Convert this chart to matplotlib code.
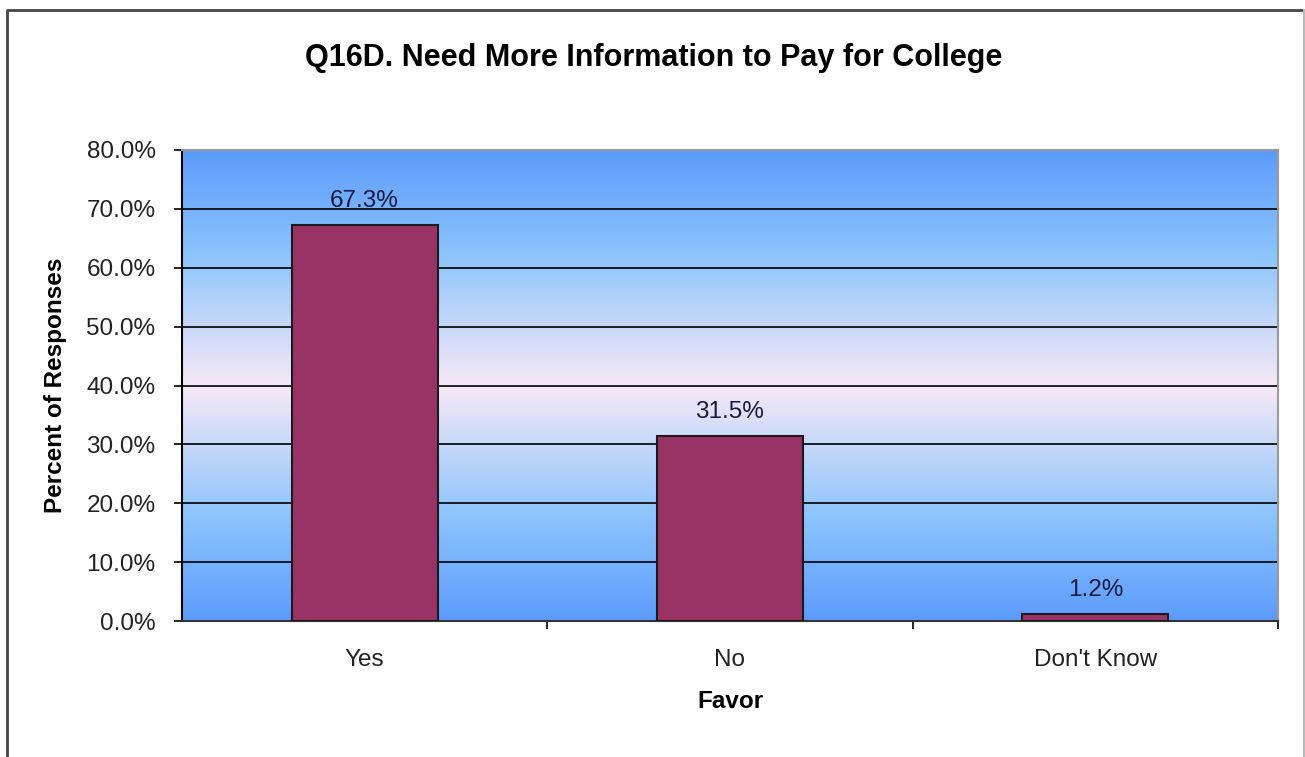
import matplotlib.pyplot as plt
import numpy as np
from matplotlib.colors import LinearSegmentedColormap
from matplotlib.lines import Line2D

categories = ['Yes', 'No', "Don't Know"]
percent = [67.3, 31.5, 1.2]
y_ticks = [0, 10, 20, 30, 40, 50, 60, 70, 80]

plt.rcParams['font.family'] = ['Liberation Sans', 'DejaVu Sans']
W, H = 1305, 757
fs = 17.5

fig = plt.figure(figsize=(W / 100, H / 100), dpi=100)
ax = fig.add_axes([182 / W, 1 - 621 / H, (1278 - 182) / W, (621 - 150) / H])

# outer chart border: dark top/left, light right edge
fig.lines.append(Line2D([7 / W, 7 / W, 1.0], [0, 1 - 10 / H, 1 - 10 / H],
                        transform=fig.transFigure, color='#444444', lw=2))
fig.lines.append(Line2D([1303.5 / W, 1303.5 / W], [0, 1 - 10 / H],
                        transform=fig.transFigure, color='#bbbbbb', lw=1.5))

# gradient plot background: blue at edges, pale pink in the middle
cmap = LinearSegmentedColormap.from_list('bg', [
    (0.0, '#5c9bfc'), (0.22, '#8cc4fd'), (0.5, '#f7e9f6'), (0.78, '#8cc4fd'), (1.0, '#5c9bfc')])
grad = np.linspace(0, 1, 256).reshape(-1, 1)
ax.imshow(grad, cmap=cmap, aspect='auto', extent=[0, 1, 0, 1], transform=ax.transAxes, zorder=0)

x = np.arange(len(categories))
ax.bar(x, percent, width=0.4, color='#993366', edgecolor='#1a1a1a', linewidth=1.5, zorder=3)
for xi, v in zip(x, percent):
    ax.text(xi, v + 3.0, f'{v:.1f}%', ha='center', va='baseline', fontsize=fs, color='#1a1a40', zorder=4)

ax.set_xlim(-0.5, len(categories) - 0.5)
ax.set_ylim(0, 80)
ax.set_yticks(y_ticks)
ax.set_yticklabels([f'{t:.1f}%' for t in y_ticks], fontsize=fs, color='#222222')
ax.yaxis.grid(True, color='black', linewidth=1.2, zorder=1)
ax.set_axisbelow(True)
ax.set_xticks(x)
ax.set_xticklabels(categories, fontsize=fs, color='#222222')
ax.set_xticks([0.5, 1.5, 2.5], minor=True)
ax.tick_params(axis='x', which='major', length=0, pad=20)
ax.tick_params(axis='x', which='minor', length=6, width=1.2, direction='out')
ax.tick_params(axis='y', length=6, width=1.2, pad=13)

for side in ['top', 'right']:
    ax.spines[side].set_color('#999999')
    ax.spines[side].set_linewidth(1.5)
ax.spines['left'].set_linewidth(1.5)
ax.spines['bottom'].set_linewidth(1.5)
ax.spines['bottom'].set_color('#333333')

ax.set_xlabel('Favor', fontsize=fs, fontweight='bold', labelpad=14)
ax.set_ylabel('Percent of Responses', fontsize=fs, fontweight='bold', labelpad=14)
fig.text(654 / W, 1 - 58 / H, 'Q16D. Need More Information to Pay for College',
         ha='center', va='center', fontsize=22, fontweight='bold')

fig.savefig('out.png', dpi=100)
